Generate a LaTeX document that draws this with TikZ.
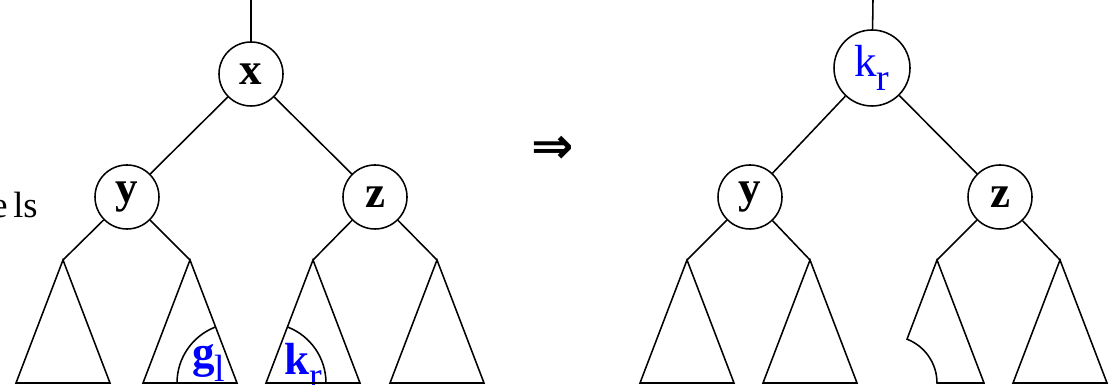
\documentclass[tikz,border=0pt]{standalone}
\usepackage{fontspec}
\setmainfont{Liberation Serif}
\newfontfamily\simboli{DejaVu Sans}
\definecolor{Chiave}{HTML}{0000FF}
\tikzset{
    nodo/.style={circle, draw=black, line width=1.1pt, minimum size=1.6cm, inner sep=0pt, font=\bfseries\fontsize{32}{32}\selectfont},
    ramo/.style={line width=1.1pt, color=black},
    sottoalbero/.style={line width=1.1pt, color=black, line join=miter},
    chiave/.style={text=Chiave, inner sep=0pt, font=\bfseries\fontsize{32}{32}\selectfont},
}
\newcommand{\pedice}[1]{\raisebox{-0.3em}{\mdseries\fontsize{27}{27}\selectfont #1}}

\begin{document}
\begin{tikzpicture}[x=0.025cm, y=0.025cm]
    \clip (0,0) rectangle (1109,385);

    % Testo tagliato sul bordo
    \node[anchor=base east, inner sep=0pt, font=\fontsize{26}{26}\selectfont] (testo) at (38,167) {e\hspace{4pt}ls};

    % Albero prima
    \coordinate (topL) at (251,385);
    \node[nodo] (xL) at (251,311) {x};
    \node[nodo] (yL) at (127,188) {y};
    \node[nodo] (zL) at (375,188) {z};
    \coordinate (yLa) at (63,125);   % sottoalberi di y
    \coordinate (yLb) at (190,125);
    \coordinate (zLa) at (313,125);  % sottoalberi di z
    \coordinate (zLb) at (437,125);

    \draw[ramo] (topL) -- (xL);
    \draw[ramo] (xL) -- (yL);
    \draw[ramo] (xL) -- (zL);
    \draw[ramo] (yL) -- (yLa);
    \draw[ramo] (yL) -- (yLb);
    \draw[ramo] (zL) -- (zLa);
    \draw[ramo] (zL) -- (zLb);

    % Archi delle chiavi
    \draw[sottoalbero] (177,2) arc[start angle=180, end angle=111.2, radius=60];
    \draw[sottoalbero] (326,2) arc[start angle=0, end angle=68.8, radius=60];
    \node[chiave, anchor=base west] (gl) at (192,17) {g\pedice{l}};
    \node[chiave, anchor=base west] (krL) at (284,10) {k\pedice{r}};

    % Freccia
    \node[font=\simboli\bfseries\fontsize{36}{36}\selectfont] (freccia) at (553,235) {⇒};

    % Albero dopo
    \coordinate (topR) at (873,385);
    \node[nodo, minimum size=1.9cm, text=Chiave, font=\fontsize{32}{32}\selectfont] (kR) at (872,317) {k\pedice{r}};
    \node[nodo] (yR) at (750,188) {y};
    \node[nodo] (zR) at (1000,188) {z};
    \coordinate (yRa) at (687,125);
    \coordinate (yRb) at (810,125);
    \coordinate (zRa) at (937,125);
    \coordinate (zRb) at (1060,125);

    \draw[ramo] (topR) -- (kR);
    \draw[ramo] (kR) -- (yR);
    \draw[ramo] (kR) -- (zR);
    \draw[ramo] (yR) -- (yRa);
    \draw[ramo] (yR) -- (yRb);
    \draw[ramo] (zR) -- (zRa);
    \draw[ramo] (zR) -- (zRb);

    % Sottoalberi
    \foreach \p in {yLa, yLb, zLa, zLb, yRa, yRb, zRb}
        \draw[sottoalbero] (\p) -- ++(-47,-123) -- ++(94,0) -- cycle;
    % sottoalbero senza la chiave k_r
    \draw[sottoalbero] (zRa) -- ++(47,-123) -- ++(-47,0) arc[start angle=0, end angle=68.8, radius=47] -- cycle;
\end{tikzpicture}
\end{document}
